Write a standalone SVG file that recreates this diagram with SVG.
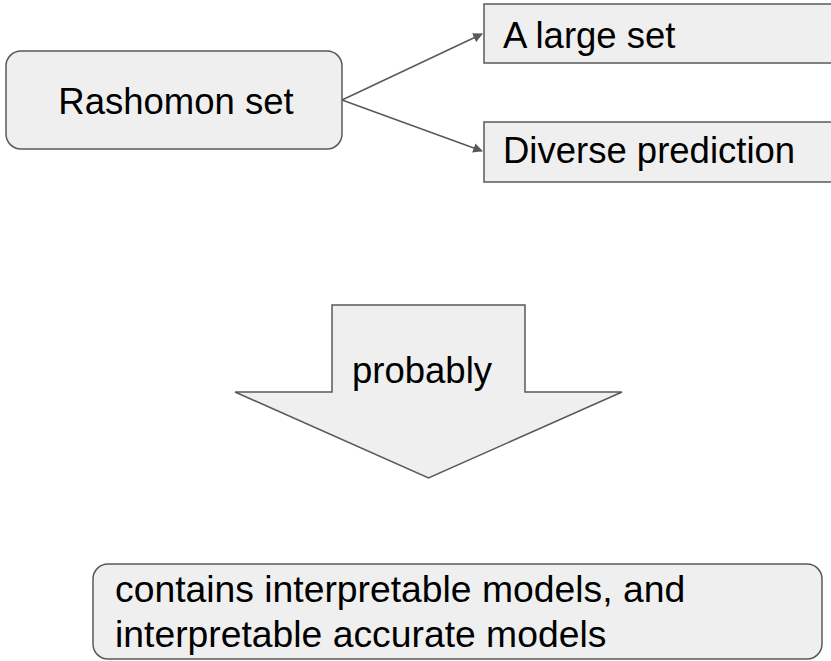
<svg xmlns="http://www.w3.org/2000/svg" width="831" height="661" viewBox="0 0 831 661">
<style>
.box{fill:#efefef;stroke:#595959;stroke-width:1.5}
.t{font-family:"Liberation Sans",Arial,sans-serif;font-size:36.5px;fill:#000}
.tb{font-size:37.3px}
.conn{stroke:#595959;stroke-width:1.5;fill:none}
</style>
<defs>
<marker id="ah" viewBox="0 0 10 10" refX="9" refY="5" markerWidth="6.5" markerHeight="6.5" markerUnits="strokeWidth" orient="auto">
<path d="M0,0 L10,5 L0,10 z" fill="#595959"/>
</marker>
</defs>
<rect width="831" height="661" fill="#fff"/>
<g id="rashomon">
<rect class="box" x="6" y="51" width="336" height="98" rx="15"/>
<text class="t" x="176" y="114" text-anchor="middle">Rashomon set</text>
</g>
<g id="large-set">
<rect class="box" x="484" y="4" width="360" height="59"/>
<text class="t" x="503" y="48">A large set</text>
</g>
<g id="diverse">
<rect class="box" x="484" y="122" width="360" height="60"/>
<text class="t" x="503" y="163">Diverse prediction</text>
</g>
<g id="connectors">
<line class="conn" x1="342" y1="100" x2="482" y2="34" marker-end="url(#ah)"/>
<line class="conn" x1="342" y1="100" x2="482" y2="151" marker-end="url(#ah)"/>
</g>
<g id="probably">
<path class="box" d="M332,305 L525,305 L525,392 L622,392 L428.5,478 L235,392 L332,392 Z"/>
<text class="t" x="422" y="383" text-anchor="middle">probably</text>
</g>
<g id="conclusion">
<rect class="box" x="93" y="564" width="729" height="95" rx="15"/>
<text class="t tb" x="115" y="602">contains interpretable models, and</text>
<text class="t tb" x="115" y="647">interpretable accurate models</text>
</g>
</svg>
